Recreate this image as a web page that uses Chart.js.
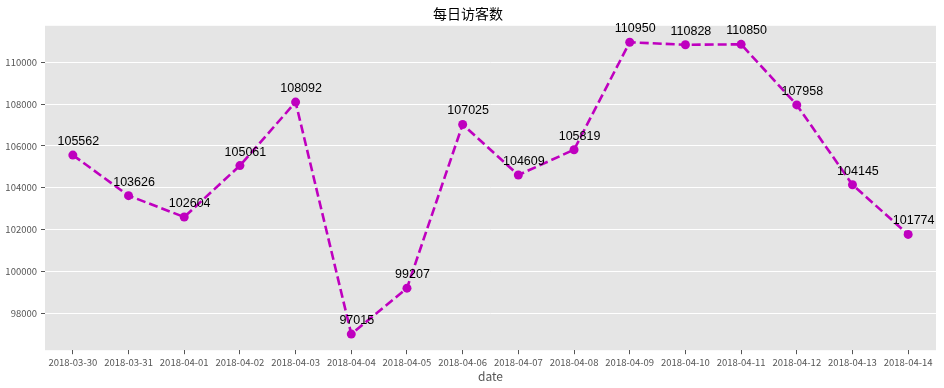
<!DOCTYPE html>
<html>
<head>
<meta charset="utf-8">
<script src="https://cdn.jsdelivr.net/npm/chart.js@4.4.1/dist/chart.umd.min.js"></script>
<style>
  html, body { margin: 0; padding: 0; background: #ffffff; }
  #wrap { width: 944px; height: 388px; }
</style>
</head>
<body>
<div id="wrap"><canvas id="c" width="944" height="388"></canvas></div>
<script>
const dates = ["2018-03-30","2018-03-31","2018-04-01","2018-04-02","2018-04-03","2018-04-04","2018-04-05","2018-04-06","2018-04-07","2018-04-08","2018-04-09","2018-04-10","2018-04-11","2018-04-12","2018-04-13","2018-04-14"];
const visitors = [105562,103626,102604,105061,108092,97015,99207,107025,104609,105819,110950,110828,110850,107958,104145,101774];
const yTicks = [98000,100000,102000,104000,106000,108000,110000];
const chartTitle = "每日访客数";
const xTitle = "date";

const CJK = '"Noto Sans CJK SC", "DejaVu Sans", sans-serif';
const LAB = '"Liberation Sans", Arial, sans-serif';

const panelBg = {
  id: 'panelBg',
  beforeDraw(chart) {
    const {ctx, chartArea: a} = chart;
    ctx.save();
    ctx.fillStyle = '#E5E5E5';
    ctx.fillRect(a.left, a.top, a.right - a.left, a.bottom - a.top);
    ctx.restore();
  }
};

const pointLabels = {
  id: 'pointLabels',
  afterDatasetsDraw(chart) {
    const {ctx} = chart;
    const meta = chart.getDatasetMeta(0);
    const data = chart.data.datasets[0].data;
    ctx.save();
    ctx.font = '12.5px ' + LAB;
    ctx.fillStyle = '#000000';
    ctx.textAlign = 'center';
    ctx.textBaseline = 'alphabetic';
    meta.data.forEach((pt, i) => {
      ctx.fillText(String(data[i]), pt.x + 5.5, pt.y - 10);
    });
    ctx.restore();
  }
};

new Chart(document.getElementById('c'), {
  type: 'line',
  data: {
    labels: dates,
    datasets: [{
      data: visitors,
      borderColor: '#BF00BF',
      backgroundColor: '#BF00BF',
      borderWidth: 2.6,
      borderDash: [9, 4],
      pointRadius: 4.5,
      pointHoverRadius: 4.5,
      pointBorderWidth: 0,
      tension: 0,
      fill: false
    }]
  },
  options: {
    responsive: false,
    animation: false,
    devicePixelRatio: 1,
    layout: { padding: { left: 0, right: 8, top: 0, bottom: 4 } },
    plugins: {
      legend: { display: false },
      tooltip: { enabled: false },
      title: {
        display: true,
        text: chartTitle,
        color: '#000000',
        font: { family: CJK, size: 14, weight: 'normal' },
        padding: { top: 5, bottom: 4 }
      }
    },
    scales: {
      x: {
        type: 'category',
        offset: true,
        grid: { drawOnChartArea: false, drawTicks: true, tickLength: 4, tickColor: '#555555', color: '#555555' },
        border: { display: false },
        ticks: { color: '#555555', font: { family: CJK, size: 9.5 }, padding: 2, maxRotation: 0, autoSkip: false },
        title: { display: true, text: xTitle, color: '#555555', font: { family: CJK, size: 12 }, padding: { top: 0, bottom: 0 } }
      },
      y: {
        min: 96246,
        max: 111735,
        afterBuildTicks(scale) { scale.ticks = yTicks.map(v => ({ value: v })); },
        afterFit(scale) { scale.width = 45; },
        grid: { color: '#FFFFFF', lineWidth: 1, drawTicks: true, tickLength: 4, tickColor: '#555555' },
        border: { display: false },
        ticks: { color: '#555555', font: { family: CJK, size: 9.5 }, padding: 4, callback: (v) => String(v) }
      }
    }
  },
  plugins: [panelBg, pointLabels]
});
</script>
</body>
</html>
